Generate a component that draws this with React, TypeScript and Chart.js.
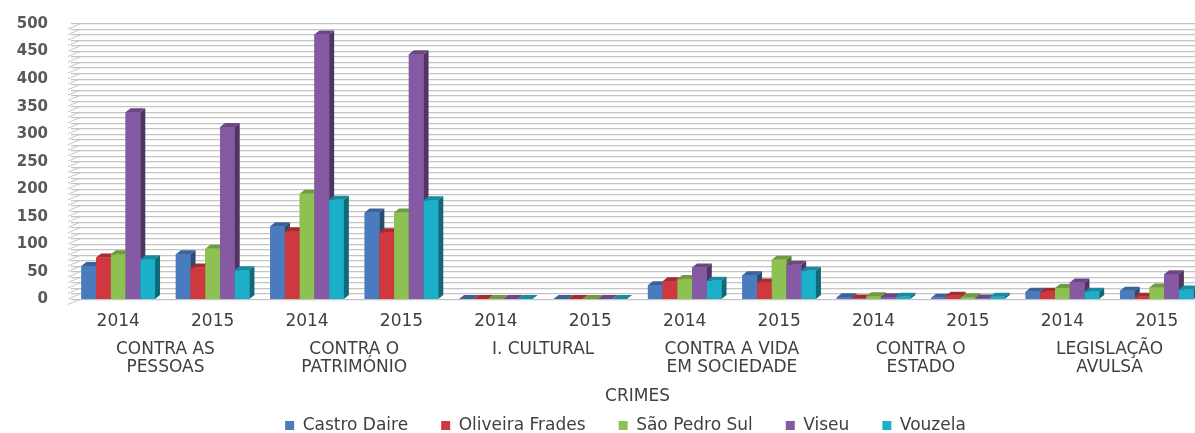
import React, { useEffect, useRef } from "react";
import { Chart, registerables } from "chart.js";

Chart.register(...registerables);

const categories = ["2014", "2015", "2014", "2015", "2014", "2015", "2014", "2015", "2014", "2015", "2014", "2015"];
const groupLabels = [
  ["CONTRA AS", "PESSOAS"],
  ["CONTRA O", "PATRIMÓNIO"],
  ["I. CULTURAL"],
  ["CONTRA A VIDA", "EM SOCIEDADE"],
  ["CONTRA O", "ESTADO"],
  ["LEGISLAÇÃO", "AVULSA"],
];
const seriesNames = ["Castro Daire", "Oliveira Frades", "São Pedro Sul", "Viseu", "Vouzela"];
const castroDaire = [61, 82, 133, 158, 1, 1, 26, 44, 4, 3, 14, 16];
const oliveiraFrades = [76, 58, 124, 122, 1, 1, 33, 31, 2, 7, 14, 5];
const saoPedroSul = [82, 92, 192, 158, 1, 1, 37, 72, 6, 4, 21, 22];
const viseu = [340, 313, 481, 445, 1, 1, 58, 63, 4, 2, 31, 46];
const vouzela = [73, 53, 181, 180, 1, 1, 34, 52, 5, 5, 14, 18];
const seriesValues = [castroDaire, oliveiraFrades, saoPedroSul, viseu, vouzela];
const seriesColors = ["#4a7bbf", "#d0373e", "#8dc152", "#8659a4", "#1bafc9"];

const FONT = "DejaVu Sans";

function shade(hex: string, f: number) {
  const n = parseInt(hex.slice(1), 16);
  const r = Math.round(((n >> 16) & 255) * f);
  const g = Math.round(((n >> 8) & 255) * f);
  const b = Math.round((n & 255) * f);
  return `rgb(${r},${g},${b})`;
}

const DX = 5;
const DY = 4;

const wallPlugin = {
  id: "wall",
  beforeDatasetsDraw(chart: any) {
    const { ctx, chartArea, scales } = chart;
    const y = scales.y;
    ctx.save();
    ctx.strokeStyle = "#c4c4c4";
    ctx.lineWidth = 1;
    for (let v = 0; v <= 500; v += 10) {
      const py = y.getPixelForValue(v);
      ctx.beginPath();
      ctx.moveTo(chartArea.left - 3, py + 5);
      ctx.lineTo(chartArea.left + 9, py);
      ctx.stroke();
    }
    ctx.restore();
  },
};

const legendShiftPlugin = {
  id: "legendShift",
  afterLayout(chart: any) {
    if (chart.legend) {
      chart.legend.left += 15;
      chart.legend.right += 15;
    }
  },
};

const bar3dPlugin = {
  id: "bar3d",
  afterDatasetsDraw(chart: any) {
    const { ctx } = chart;
    const n = chart.data.labels.length;
    ctx.save();
    for (let i = 0; i < n; i++) {
      chart.data.datasets.forEach((ds: any, d: number) => {
        const meta = chart.getDatasetMeta(d);
        const el = meta.data[i];
        if (!el) return;
        const { x, y, base, width } = el.getProps(["x", "y", "base", "width"], true);
        const l = x - width / 2;
        const r = x + width / 2;
        const c = seriesColors[d];
        ctx.fillStyle = c;
        ctx.fillRect(l, y, width, base - y);
        ctx.fillStyle = shade(c, 0.8);
        ctx.beginPath();
        ctx.moveTo(l, y);
        ctx.lineTo(l + DX, y - DY);
        ctx.lineTo(r + DX, y - DY);
        ctx.lineTo(r, y);
        ctx.closePath();
        ctx.fill();
        ctx.fillStyle = shade(c, 0.6);
        ctx.beginPath();
        ctx.moveTo(r, y);
        ctx.lineTo(r + DX, y - DY);
        ctx.lineTo(r + DX, base - DY);
        ctx.lineTo(r, base);
        ctx.closePath();
        ctx.fill();
      });
    }
    ctx.restore();
  },
};

export default function App() {
  const ref = useRef<HTMLCanvasElement>(null);
  useEffect(() => {
    if (!ref.current) return;
    const defaultGen = (Chart.defaults.plugins.legend.labels as any).generateLabels;
    const chart = new Chart(ref.current, {
      type: "bar",
      data: {
        labels: categories,
        datasets: seriesNames.map((name, i) => ({
          label: name,
          data: seriesValues[i],
          backgroundColor: seriesColors[i],
          borderWidth: 0,
          categoryPercentage: 0.78,
          barPercentage: 1,
          xAxisID: "x",
        })),
      },
      options: {
        animation: false,
        responsive: true,
        maintainAspectRatio: false,
        layout: { padding: { top: 24, right: 46, left: 17, bottom: -11 } },
        plugins: {
          tooltip: { enabled: false },
          legend: {
            position: "bottom",
            labels: {
              boxWidth: 9,
              boxHeight: 9,
              padding: 6,
              color: "#404040",
              font: { family: FONT, size: 17 },
              generateLabels: (c: any) =>
                defaultGen(c).map((it: any, idx: number, arr: any[]) => ({
                  ...it,
                  text: idx < arr.length - 1 ? it.text + "     " : it.text,
                })),
            },
          },
        },
        scales: {
          x: {
            type: "category",
            grid: { display: false },
            border: { display: false },
            ticks: {
              padding: 4,
              color: "#404040",
              font: { family: FONT, size: 17 },
              maxRotation: 0,
              autoSkip: false,
            },
          },
          x2: {
            type: "category",
            position: "bottom",
            labels: groupLabels as any,
            grid: { display: false },
            border: { display: false },
            ticks: {
              padding: -3,
              color: "#404040",
              font: { family: FONT, size: 17, lineHeight: 1.05 },
              maxRotation: 0,
              autoSkip: false,
            },
            title: {
              display: true,
              text: "CRIMES",
              color: "#404040",
              font: { family: FONT, size: 17 },
              padding: { top: 13, bottom: 4 },
            },
          },
          y: {
            min: 0,
            max: 500,
            grid: { color: "#c4c4c4", lineWidth: 1.2, drawTicks: false },
            border: { display: false },
            afterFit: (scale: any) => {
              scale.width = 54;
              scale.paddingTop = 0;
              scale.paddingBottom = 0;
            },
            ticks: {
              stepSize: 10,
              autoSkip: false,
              padding: 23,
              color: "#595959",
              font: { family: FONT, size: 15, weight: "bold" },
              callback: (v: any) => (Number(v) % 50 === 0 ? String(v) : ""),
            },
          },
        },
      },
      plugins: [wallPlugin, bar3dPlugin, legendShiftPlugin],
    });
    return () => chart.destroy();
  }, []);
  return (
    <div style={{ position: "fixed", left: 0, top: 0, width: 1250, height: 433, background: "#fff" }}>
      <canvas ref={ref} />
    </div>
  );
}
